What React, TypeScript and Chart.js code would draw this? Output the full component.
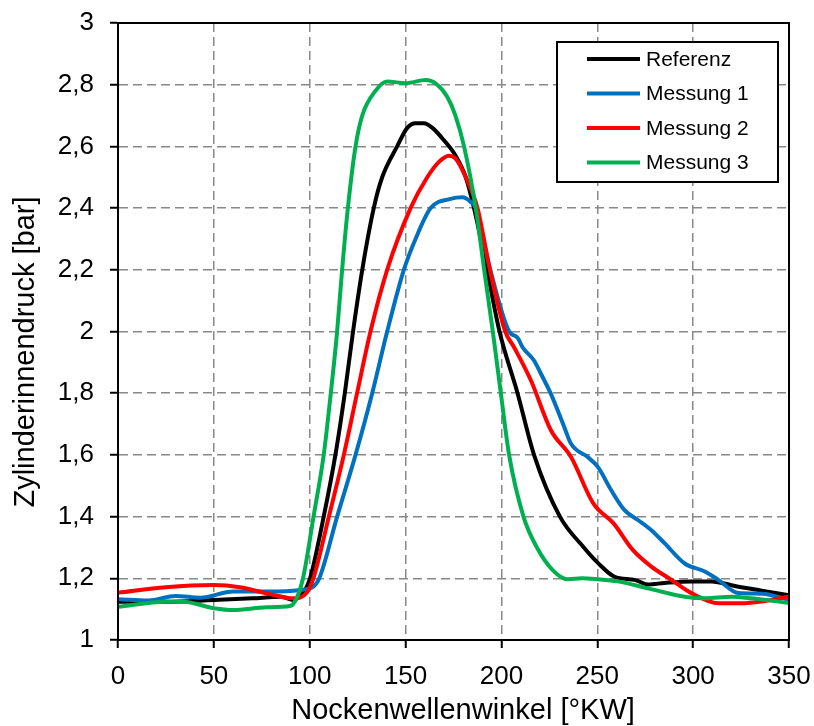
import React, { useEffect, useRef } from 'react';
import { Chart, registerables } from 'chart.js';

Chart.register(...registerables);

// ---- Data ----
const seriesNames = ['Referenz', 'Messung 1', 'Messung 2', 'Messung 3'];
const seriesColors = ['#000000', '#0070C0', '#FF0000', '#00B050'];

const refX = [0, 25, 50, 70, 85, 91.5, 97.5, 100.2, 107.3, 113.4, 118.3, 122.6, 127.4, 133.4, 137.8, 145.6, 150.9, 155.2, 159.6, 164, 170, 176.1, 181.4, 185.7, 192.5, 199, 208.4, 217, 230.5, 243, 250.3, 259, 269.5, 276.4, 285, 299, 309.6, 321.8, 335.8, 350];
const refY = [1.124, 1.124, 1.13, 1.135, 1.14, 1.13, 1.162, 1.2, 1.4, 1.6, 1.8, 2.0, 2.2, 2.4, 2.5, 2.6, 2.66, 2.675, 2.675, 2.66, 2.62, 2.57, 2.5, 2.4, 2.2, 2.0, 1.8, 1.6, 1.4, 1.3, 1.25, 1.205, 1.195, 1.18, 1.185, 1.19, 1.19, 1.175, 1.16, 1.145];

const m1X = [0, 16, 30, 43, 60, 78, 95, 101.9, 105, 114.3, 123.9, 132.6, 140.4, 149.1, 155.2, 163.1, 173.5, 179.6, 184, 186.6, 194.2, 204, 208.4, 211, 217, 220.6, 225.8, 232.8, 236.3, 245, 250.3, 257.2, 264.2, 271.2, 278.2, 285.2, 295.6, 306.1, 313.1, 323.6, 335.8, 350];
const m1Y = [1.132, 1.128, 1.143, 1.137, 1.157, 1.157, 1.162, 1.173, 1.2, 1.4, 1.6, 1.8, 2.0, 2.2, 2.3, 2.4, 2.43, 2.435, 2.42, 2.4, 2.2, 2.0, 1.98, 1.949, 1.906, 1.863, 1.798, 1.69, 1.636, 1.593, 1.561, 1.486, 1.421, 1.389, 1.356, 1.313, 1.248, 1.222, 1.195, 1.152, 1.15, 1.13];

const m2X = [0, 25, 50, 63.6, 77.6, 91.5, 98.4, 101.9, 110, 117.8, 124.7, 131.7, 140.4, 152.6, 161.3, 167.4, 172.6, 176.1, 181.4, 187.5, 194, 202, 206.6, 215.4, 225.8, 236.3, 248, 258.5, 268.5, 278.2, 288.7, 299.1, 313.1, 325.3, 335.8, 350];
const m2Y = [1.153, 1.171, 1.178, 1.171, 1.151, 1.135, 1.153, 1.2, 1.4, 1.6, 1.8, 2.0, 2.2, 2.4, 2.5, 2.55, 2.57, 2.56, 2.5, 2.4, 2.2, 2.0, 1.949, 1.841, 1.68, 1.593, 1.442, 1.378, 1.292, 1.238, 1.195, 1.152, 1.119, 1.119, 1.125, 1.141];

const m3X = [0, 25, 34, 50, 60, 77.6, 89.7, 93.2, 96.5, 102, 107.3, 111, 114.3, 116.9, 119.9, 123.9, 127.4, 134.3, 140.4, 150, 160.5, 166.5, 171.8, 176, 180.5, 186.6, 191, 195.5, 199.7, 204, 211.5, 218.5, 227, 234.5, 242, 250, 260.7, 278, 295.6, 306, 320, 330.5, 350];
const m3Y = [1.108, 1.124, 1.124, 1.103, 1.097, 1.106, 1.11, 1.136, 1.2, 1.4, 1.6, 1.8, 2.0, 2.2, 2.4, 2.6, 2.7, 2.78, 2.81, 2.805, 2.815, 2.8, 2.76, 2.7, 2.6, 2.4, 2.2, 2.0, 1.8, 1.6, 1.4, 1.3, 1.225, 1.197, 1.2, 1.197, 1.19, 1.165, 1.14, 1.135, 1.14, 1.135, 1.12];

const xTickValues = [0, 50, 100, 150, 200, 250, 300, 350];
const yTickValues = [1, 1.2, 1.4, 1.6, 1.8, 2, 2.2, 2.4, 2.6, 2.8, 3];
const xTitle = 'Nockenwellenwinkel [°KW]';
const yTitle = 'Zylinderinnendruck [bar]';

const FONT = '"Liberation Sans", Arial, sans-serif';

const fmtY = (v: number) => Number(v).toFixed(1).replace(/\.0$/, '').replace('.', ',');

const zeroPad = (s: any) => {
  s.paddingLeft = 0;
  s.paddingRight = 0;
  s.paddingTop = 0;
  s.paddingBottom = 0;
};

export default function App() {
  const ref = useRef<HTMLCanvasElement>(null);

  useEffect(() => {
    document.body.style.margin = '0';
    const canvas = ref.current!;
    const xs = [refX, m1X, m2X, m3X];
    const ys = [refY, m1Y, m2Y, m3Y];

    const framePlugin = {
      id: 'frame',
      afterDatasetsDraw(chart: any) {
        const { ctx, chartArea: a } = chart;
        ctx.save();
        ctx.strokeStyle = '#000';
        ctx.lineWidth = 2;
        ctx.strokeRect(a.left, a.top, a.right - a.left, a.bottom - a.top);
        ctx.restore();
      },
    };

    const legendPlugin = {
      id: 'boxLegend',
      afterDraw(chart: any) {
        const { ctx } = chart;
        ctx.save();
        const bx = 557, by = 42, bw = 221, bh = 140;
        ctx.fillStyle = '#fff';
        ctx.fillRect(bx, by, bw, bh);
        ctx.strokeStyle = '#000';
        ctx.lineWidth = 2;
        ctx.strokeRect(bx, by, bw, bh);
        ctx.font = `21px ${FONT}`;
        ctx.textBaseline = 'middle';
        ctx.textAlign = 'left';
        seriesNames.forEach((name, i) => {
          const y = 59 + i * 34.5;
          ctx.strokeStyle = seriesColors[i];
          ctx.lineWidth = 4;
          ctx.beginPath();
          ctx.moveTo(587, y);
          ctx.lineTo(640, y);
          ctx.stroke();
          ctx.fillStyle = '#000';
          ctx.fillText(name, 646, y + 1);
        });
        ctx.restore();
      },
    };

    const titlePlugin = {
      id: 'axisTitles',
      afterDraw(chart: any) {
        const { ctx } = chart;
        ctx.save();
        ctx.fillStyle = '#000';
        ctx.font = `29px ${FONT}`;
        ctx.textAlign = 'center';
        ctx.textBaseline = 'alphabetic';
        ctx.fillText(xTitle, 463, 719);
        ctx.translate(34, 352);
        ctx.rotate(-Math.PI / 2);
        ctx.fillText(yTitle, 0, 0);
        ctx.restore();
      },
    };

    const chart = new Chart(canvas, {
      type: 'scatter',
      data: {
        datasets: seriesNames.map((name, i) => ({
          label: name,
          data: xs[i].map((x, j) => ({ x, y: ys[i][j] })),
          showLine: true,
          borderColor: seriesColors[i],
          backgroundColor: seriesColors[i],
          borderWidth: 4,
          pointRadius: 0,
          cubicInterpolationMode: 'monotone' as const,
          order: 4 - i,
        })),
      },
      options: {
        responsive: false,
        animation: false,
        devicePixelRatio: 1,
        layout: { padding: { top: 23, right: 25, left: 0, bottom: 0 } },
        plugins: { legend: { display: false }, tooltip: { enabled: false } },
        scales: {
          x: {
            type: 'linear',
            min: 0,
            max: 350,
            afterFit: (s: any) => { s.height = 86; zeroPad(s); },
            afterBuildTicks: (s: any) => { s.ticks = xTickValues.map((v) => ({ value: v })); },
            ticks: {
              color: '#000',
              font: { family: FONT, size: 26 },
              padding: 13,
              maxRotation: 0,
              callback: (v: any) => String(v),
            },
            grid: {
              color: '#888888',
              lineWidth: 1.5,
              tickColor: '#000',
              tickLength: 8,
              tickWidth: 2,
            },
            border: { display: true, color: '#000', width: 2, dash: [9, 5] },
          },
          y: {
            type: 'linear',
            min: 1,
            max: 3,
            afterFit: (s: any) => { s.width = 118; zeroPad(s); },
            afterBuildTicks: (s: any) => { s.ticks = yTickValues.map((v) => ({ value: v })); },
            ticks: {
              color: '#000',
              font: { family: FONT, size: 26 },
              padding: 16,
              callback: (v: any) => fmtY(v),
            },
            grid: {
              color: '#888888',
              lineWidth: 1.5,
              tickColor: '#000',
              tickLength: 8,
              tickWidth: 2,
            },
            border: { display: true, color: '#000', width: 2, dash: [9, 5] },
          },
        },
      },
      plugins: [framePlugin, legendPlugin, titlePlugin],
    });
    return () => chart.destroy();
  }, []);

  return <canvas ref={ref} width={814} height={726} style={{ display: 'block', width: 814, height: 726 }} />;
}
